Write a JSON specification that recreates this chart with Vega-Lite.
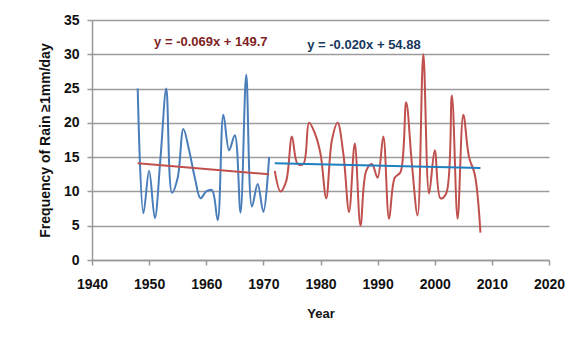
{
  "$schema": "https://vega.github.io/schema/vega-lite/v6.json",
  "width": 457,
  "height": 240,
  "autosize": {"type": "none"},
  "padding": {"left": 92, "top": 20, "right": 30, "bottom": 89},
  "background": "white",
  "config": {
    "view": {"stroke": null},
    "font": "Liberation Sans",
    "axis": {"labelFont": "Liberation Sans", "titleFont": "Liberation Sans", "labelFontWeight": "bold", "titleFontWeight": "bold", "labelColor": "#111", "titleColor": "#111"}
  },
  "datasets": {
    "series": [
      {"year": 1948, "value": 25.0, "s": "obs1"},
      {"year": 1949, "value": 6.8, "s": "obs1"},
      {"year": 1950, "value": 13.0, "s": "obs1"},
      {"year": 1951, "value": 6.1, "s": "obs1"},
      {"year": 1952, "value": 15.0, "s": "obs1"},
      {"year": 1953, "value": 25.0, "s": "obs1"},
      {"year": 1954, "value": 9.8, "s": "obs1"},
      {"year": 1955, "value": 12.0, "s": "obs1"},
      {"year": 1956, "value": 19.1, "s": "obs1"},
      {"year": 1957, "value": 16.0, "s": "obs1"},
      {"year": 1958, "value": 12.0, "s": "obs1"},
      {"year": 1959, "value": 9.0, "s": "obs1"},
      {"year": 1960, "value": 10.0, "s": "obs1"},
      {"year": 1961, "value": 10.2, "s": "obs1"},
      {"year": 1962, "value": 5.8, "s": "obs1"},
      {"year": 1963, "value": 21.2, "s": "obs1"},
      {"year": 1964, "value": 16.0, "s": "obs1"},
      {"year": 1965, "value": 18.2, "s": "obs1"},
      {"year": 1966, "value": 6.9, "s": "obs1"},
      {"year": 1967, "value": 27.0, "s": "obs1"},
      {"year": 1968, "value": 7.8, "s": "obs1"},
      {"year": 1969, "value": 11.1, "s": "obs1"},
      {"year": 1970, "value": 7.0, "s": "obs1"},
      {"year": 1971, "value": 15.0, "s": "obs1"},
      {"year": 1972, "value": 13.0, "s": "obs2"},
      {"year": 1973, "value": 10.0, "s": "obs2"},
      {"year": 1974, "value": 11.5, "s": "obs2"},
      {"year": 1975, "value": 18.0, "s": "obs2"},
      {"year": 1976, "value": 14.0, "s": "obs2"},
      {"year": 1977, "value": 14.0, "s": "obs2"},
      {"year": 1978, "value": 20.0, "s": "obs2"},
      {"year": 1979, "value": 18.5, "s": "obs2"},
      {"year": 1980, "value": 15.5, "s": "obs2"},
      {"year": 1981, "value": 9.0, "s": "obs2"},
      {"year": 1982, "value": 17.5, "s": "obs2"},
      {"year": 1983, "value": 20.0, "s": "obs2"},
      {"year": 1984, "value": 15.5, "s": "obs2"},
      {"year": 1985, "value": 7.0, "s": "obs2"},
      {"year": 1986, "value": 17.0, "s": "obs2"},
      {"year": 1987, "value": 5.0, "s": "obs2"},
      {"year": 1988, "value": 13.0, "s": "obs2"},
      {"year": 1989, "value": 14.0, "s": "obs2"},
      {"year": 1990, "value": 12.0, "s": "obs2"},
      {"year": 1991, "value": 18.0, "s": "obs2"},
      {"year": 1992, "value": 6.0, "s": "obs2"},
      {"year": 1993, "value": 12.0, "s": "obs2"},
      {"year": 1994, "value": 12.8, "s": "obs2"},
      {"year": 1995, "value": 23.0, "s": "obs2"},
      {"year": 1996, "value": 14.0, "s": "obs2"},
      {"year": 1997, "value": 6.5, "s": "obs2"},
      {"year": 1998, "value": 30.0, "s": "obs2"},
      {"year": 1999, "value": 9.7, "s": "obs2"},
      {"year": 2000, "value": 16.0, "s": "obs2"},
      {"year": 2001, "value": 9.0, "s": "obs2"},
      {"year": 2002, "value": 9.7, "s": "obs2"},
      {"year": 2003, "value": 24.0, "s": "obs2"},
      {"year": 2004, "value": 6.0, "s": "obs2"},
      {"year": 2005, "value": 21.2, "s": "obs2"},
      {"year": 2006, "value": 15.0, "s": "obs2"},
      {"year": 2007, "value": 12.5, "s": "obs2"},
      {"year": 2008, "value": 4.0, "s": "obs2"},
      {"year": 1948, "value": 14.1, "s": "trend1"},
      {"year": 1971, "value": 12.5, "s": "trend1"},
      {"year": 1972, "value": 14.1, "s": "trend2"},
      {"year": 2008, "value": 13.4, "s": "trend2"}
    ],
    "labels": [
      {"year": 1960.8, "value": 31.8, "label": "y = -0.069x + 149.7", "s": "t1"},
      {"year": 1987.6, "value": 31.4, "label": "y = -0.020x + 54.88", "s": "t2"}
    ]
  },
  "encoding": {
    "x": {
      "field": "year", "type": "quantitative",
      "scale": {"domain": [1940, 2020], "nice": false, "zero": false},
      "axis": {
        "title": "Year", "values": [1940, 1950, 1960, 1970, 1980, 1990, 2000, 2010, 2020], "format": "d",
        "grid": false, "labelFlush": false, "labelOverlap": false, "domainColor": "#999999", "domainWidth": 1.5, "tickColor": "#999999", "tickWidth": 1.5, "tickSize": 5,
        "labelFontSize": 14, "labelPadding": 12, "titleFontSize": 13, "titlePadding": 16
      }
    },
    "y": {
      "field": "value", "type": "quantitative",
      "scale": {"domain": [0, 35], "nice": false},
      "axis": {
        "title": "Frequency of Rain ≥1mm/day", "values": [0, 5, 10, 15, 20, 25, 30, 35],
        "grid": true, "gridColor": "#9c9c9c", "gridWidth": 1.5, "labelFlush": false, "labelOverlap": false,
        "domainColor": "#999999", "domainWidth": 1.5, "tickColor": "#999999", "tickWidth": 1.5, "tickSize": 5,
        "labelFontSize": 14, "labelPadding": 8, "titleFontSize": 14, "titlePadding": 11
      }
    }
  },
  "layer": [
    {
      "data": {"name": "series"},
      "mark": {"type": "line", "interpolate": "catmull-rom", "strokeWidth": 2},
      "encoding": {
        "color": {
          "field": "s", "type": "nominal", "legend": null,
          "scale": {"domain": ["obs1", "obs2", "trend1", "trend2"], "range": ["#4a7ebb", "#c0504d", "#c0504d", "#1f7fc0"]}
        },
        "strokeWidth": {
          "field": "s", "type": "nominal", "legend": null,
          "scale": {"domain": ["obs1", "obs2", "trend1", "trend2"], "range": [2, 2, 2.2, 2.6]}
        }
      }
    },
    {
      "data": {"name": "labels"},
      "mark": {"type": "text", "fontWeight": "bold", "fontSize": 13, "font": "Liberation Sans", "align": "center", "baseline": "middle"},
      "encoding": {
        "text": {"field": "label"},
        "color": {
          "field": "s", "type": "nominal", "legend": null,
          "scale": {"domain": ["t1", "t2"], "range": ["#7f1f1f", "#17375e"]}
        }
      }
    }
  ],
  "resolve": {"scale": {"color": "independent"}}
}
